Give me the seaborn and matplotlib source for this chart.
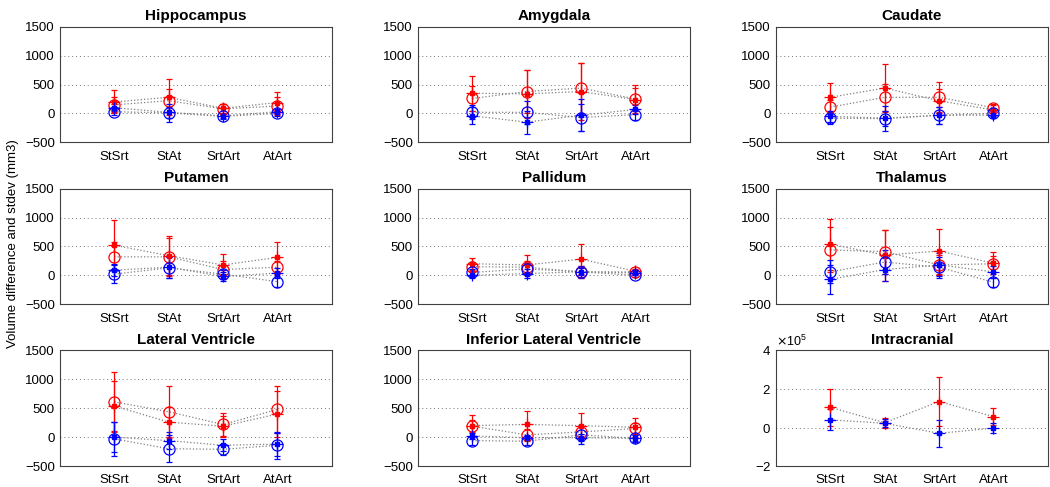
import numpy as np
import pandas as pd
import matplotlib
matplotlib.use("Agg")
import matplotlib.pyplot as plt
import seaborn as sns
from matplotlib.ticker import ScalarFormatter

# ---------------- data ----------------
regions = ["Hippocampus", "Amygdala", "Caudate",
           "Putamen", "Pallidum", "Thalamus",
           "Lateral Ventricle", "Inferior Lateral Ventricle", "Intracranial"]
pairs = ["StSrt", "StAt", "SrtArt", "AtArt"]

# red circles (mean / stdev)
red_o_mean = [[150, 220, 80, 130], [260, 380, 440, 250], [110, 280, 280, 100],
              [320, 320, 100, 140], [150, 140, 60, 60], [440, 410, 180, 200],
              [610, 440, 220, 480], [190, 40, 90, 150], [np.nan] * 4]
red_o_sd = [[130, 200, 90, 150], [220, 380, 430, 250], [120, 230, 270, 60],
            [250, 330, 150, 110], [80, 100, 100, 40], [390, 380, 170, 140],
            [520, 450, 200, 410], [100, 100, 100, 100], [np.nan] * 4]
# red stars
red_s_mean = [[200, 280, 90, 190], [350, 340, 380, 240], [280, 440, 220, 60],
              [520, 340, 180, 310], [200, 180, 280, 70], [540, 350, 420, 210],
              [540, 260, 190, 400], [200, 220, 200, 170], [105000, 25000, 135000, 57000]]
red_s_sd = [[200, 310, 80, 180], [300, 420, 490, 200], [240, 410, 200, 80],
            [430, 340, 190, 270], [100, 170, 260, 40], [440, 440, 390, 190],
            [440, 260, 180, 400], [180, 230, 210, 160], [95000, 25000, 125000, 43000]]
# blue circles
blue_o_mean = [[30, 10, -50, 0], [20, 20, -70, -20], [-80, -90, -30, 0],
               [20, 130, 20, -110], [50, 110, 60, 0], [60, 230, 140, -120],
               [-30, -200, -210, -140], [-60, -70, 40, -20], [np.nan] * 4]
blue_o_sd = [[60, 150, 40, 40], [120, 200, 240, 100], [100, 220, 150, 40],
             [150, 180, 80, 100], [60, 100, 100, 30], [200, 200, 180, 80],
             [290, 230, 100, 230], [80, 60, 150, 60], [np.nan] * 4]
# blue stars
blue_s_mean = [[100, 20, -40, 30], [-40, -150, -30, 70], [-50, -80, -30, -30],
               [90, 140, -20, 40], [0, 30, 60, 40], [-70, 100, 180, 60],
               [0, -60, -140, -120], [20, -10, -10, -20], [40000, 22000, -30000, -3000]]
blue_s_sd = [[60, 100, 30, 40], [150, 200, 280, 80], [100, 130, 150, 40],
             [100, 180, 80, 80], [50, 80, 60, 30], [250, 200, 200, 100],
             [260, 150, 100, 200], [50, 40, 60, 50], [55000, 20000, 70000, 25000]]

# ---------------- plot ----------------
sns.set_style("white")
plt.rcParams['font.family'] = ['Liberation Sans', 'DejaVu Sans']
plt.rcParams['text.color'] = 'black'
plt.rcParams['xtick.color'] = 'black'
plt.rcParams['ytick.color'] = 'black'
plt.rcParams['xtick.direction'] = 'in'
plt.rcParams['ytick.direction'] = 'in'

fig, axes = plt.subplots(3, 3, figsize=(10.5, 4.87), dpi=100)
fig.subplots_adjust(left=0.057, right=0.998, top=0.945, bottom=0.043,
                    wspace=0.316, hspace=0.40)

x = np.arange(1, 5)
series = [
    (red_o_mean, red_o_sd, "#ff0000", "o"),
    (red_s_mean, red_s_sd, "#ff0000", "+"),
    (blue_o_mean, blue_o_sd, "#0000ff", "o"),
    (blue_s_mean, blue_s_sd, "#0000ff", "+"),
]

for i, (ax, name) in enumerate(zip(axes.flat, regions)):
    for mean, sd, col, mk in series:
        m = np.array(mean[i], dtype=float)
        s = np.array(sd[i], dtype=float)
        if np.all(np.isnan(m)):
            continue
        df = pd.DataFrame({"x": x, "y": m})
        # dotted connector
        sns.lineplot(data=df, x="x", y="y", ax=ax, color="0.5",
                     linestyle=":", linewidth=0.9, zorder=1)
        ax.errorbar(x, m, yerr=s, fmt="none", ecolor=col, elinewidth=0.9,
                    capsize=2, capthick=0.9, zorder=2)
        if mk == "o":
            ax.plot(x, m, "o", mfc="none", mec=col, ms=8, mew=0.9, zorder=3)
        else:
            ax.plot(x, m, "+", color=col, ms=9, mew=0.9, zorder=3)
            ax.plot(x, m, "s", color=col, ms=2.2, zorder=3)

    ax.set_xlim(0, 5)
    ax.set_xticks(x)
    ax.set_xticklabels(pairs, fontsize=9.5)
    if name == "Intracranial":
        ax.set_ylim(-200000, 400000)
        ax.set_yticks([-200000, 0, 200000, 400000])
        fmt = ScalarFormatter(useMathText=True)
        fmt.set_powerlimits((0, 0))
        ax.yaxis.set_major_formatter(fmt)
        ax.yaxis.get_offset_text().set_fontsize(9)
    else:
        ax.set_ylim(-500, 1500)
        ax.set_yticks([-500, 0, 500, 1000, 1500])
    ax.tick_params(axis='y', labelsize=9.5, length=3)
    ax.tick_params(axis='x', length=3, pad=6)
    ax.yaxis.grid(True, linestyle=(0, (1, 3)), color="0.45", linewidth=0.7)
    ax.xaxis.grid(False)
    ax.set_axisbelow(True)
    for sp in ax.spines.values():
        sp.set_color("0.25")
        sp.set_linewidth(0.8)
    ax.set_xlabel("")
    ax.set_ylabel("")
    ax.set_title(name, fontsize=11, fontweight="bold", pad=5)

fig.text(0.012, 0.5, "Volume difference and stdev (mm3)", rotation=90,
         va="center", ha="center", fontsize=9.5)

plt.savefig("out.png", dpi=100)
